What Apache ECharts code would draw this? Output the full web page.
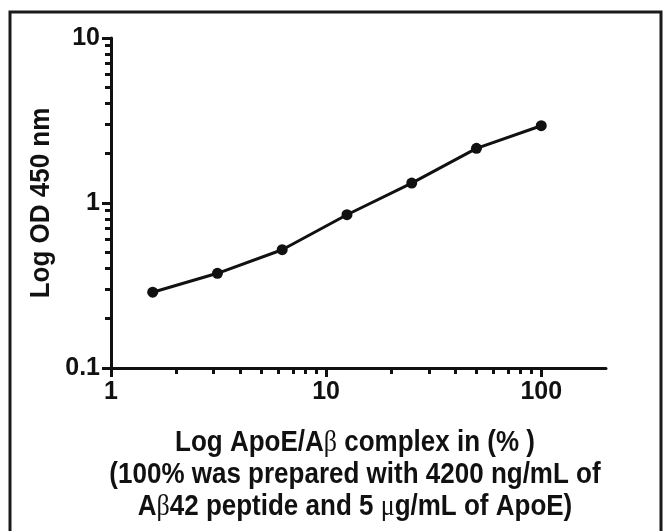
<!DOCTYPE html>
<html>
<head>
<meta charset="utf-8">
<script src="https://cdn.jsdelivr.net/npm/echarts@6/dist/echarts.min.js"></script>
<style>
html,body{margin:0;padding:0;background:#fff;}
#c{width:664px;height:531px;}
</style>
</head>
<body>
<div id="c"></div>
<script>
// Data
const xValues = [1.5625, 3.125, 6.25, 12.5, 25, 50, 100];
const yValues = [0.288, 0.375, 0.521, 0.849, 1.32, 2.145, 2.94];
const xMajorTicks = [1, 10, 100];
const xMinorTicks = [2, 3, 4, 5, 6, 7, 8, 9, 20, 30, 40, 50, 60, 70, 80, 90];
const yMajorTicks = [0.1, 1, 10];
const yMinorTicks = [0.2, 0.3, 0.4, 0.5, 0.6, 0.7, 0.8, 0.9, 2, 3, 4, 5, 6, 7, 8, 9];
const yTitle = 'Log OD 450 nm';
const xTitleLines = [
  '{n|Log ApoE/A}{g|β}{n| complex in (% )}',
  '{n|(100% was prepared with 4200 ng/mL of}',
  '{n|A}{g|β}{n|42 peptide and 5 }{g|μ}{n|g/mL of ApoE)}'
];

const FONT = '"Liberation Sans", Arial, Helvetica, sans-serif';
const chart = echarts.init(document.getElementById('c'), null, {renderer: 'canvas'});
const points = xValues.map((x, i) => [x, yValues[i]]);

const richStyle = {
  n: {fontFamily: FONT, fontWeight: 'bold', fontSize: 26, fill: '#111', color: '#111'},
  g: {fontFamily: '"Liberation Serif", "DejaVu Serif", serif', fontWeight: 'normal', fontSize: 26, fill: '#111', color: '#111'}
};

const titleCenters = [443, 475, 507];

const option = {
  backgroundColor: '#ffffff',
  animation: false,
  grid: {left: 111, top: 38, right: 58, bottom: 163, containLabel: false},
  xAxis: [
    {
      type: 'log', logBase: 10, min: 1, max: 200,
      axisLine: {show: true, lineStyle: {color: '#111', width: 3}},
      axisTick: {show: true, length: 9, lineStyle: {color: '#111', width: 3}, customValues: xMajorTicks},
      axisLabel: {show: true, customValues: xMajorTicks, margin: 12, fontFamily: FONT, fontWeight: 'bold', fontSize: 25, color: '#111'},
      splitLine: {show: false}
    },
    {
      type: 'log', logBase: 10, min: 1, max: 200, gridIndex: 0, position: 'bottom',
      axisLine: {show: false},
      axisTick: {show: true, length: 6, lineStyle: {color: '#111', width: 3}, customValues: xMinorTicks},
      axisLabel: {show: false},
      splitLine: {show: false}
    }
  ],
  yAxis: [
    {
      type: 'log', logBase: 10, min: 0.1, max: 10,
      axisLine: {show: true, lineStyle: {color: '#111', width: 3}},
      axisTick: {show: true, length: 9, lineStyle: {color: '#111', width: 3}, customValues: yMajorTicks},
      axisLabel: {show: true, customValues: yMajorTicks, margin: 11, fontFamily: FONT, fontWeight: 'bold', fontSize: 25, color: '#111',
        formatter: v => String(v)},
      splitLine: {show: false}
    },
    {
      type: 'log', logBase: 10, min: 0.1, max: 10, gridIndex: 0, position: 'left',
      axisLine: {show: false},
      axisTick: {show: true, length: 6, lineStyle: {color: '#111', width: 3}, customValues: yMinorTicks},
      axisLabel: {show: false},
      splitLine: {show: false}
    }
  ],
  series: [{
    type: 'line',
    xAxisIndex: 0, yAxisIndex: 0,
    data: points,
    symbol: 'circle',
    symbolSize: 11,
    lineStyle: {color: '#111', width: 3},
    itemStyle: {color: '#111'},
    smooth: false
  }],
  graphic: [
    {
      type: 'rect', z: -1, silent: true,
      shape: {x: 10, y: 12, width: 651, height: 540},
      style: {fill: 'none', stroke: '#1a1a1a', lineWidth: 3}
    },
    {
      type: 'text', x: 41, y: 203, rotation: Math.PI / 2, scaleY: 1.08,
      style: {text: yTitle, font: 'bold 26px ' + FONT, fill: '#111', align: 'center', verticalAlign: 'middle'}
    }
  ].concat(xTitleLines.map((t, i) => ({
    type: 'text', x: 355, y: titleCenters[i], scaleY: 1.1,
    style: {text: t, rich: richStyle, align: 'center', verticalAlign: 'middle', fill: '#111', font: 'bold 26px ' + FONT}
  })))
};
chart.setOption(option);
</script>
</body>
</html>
